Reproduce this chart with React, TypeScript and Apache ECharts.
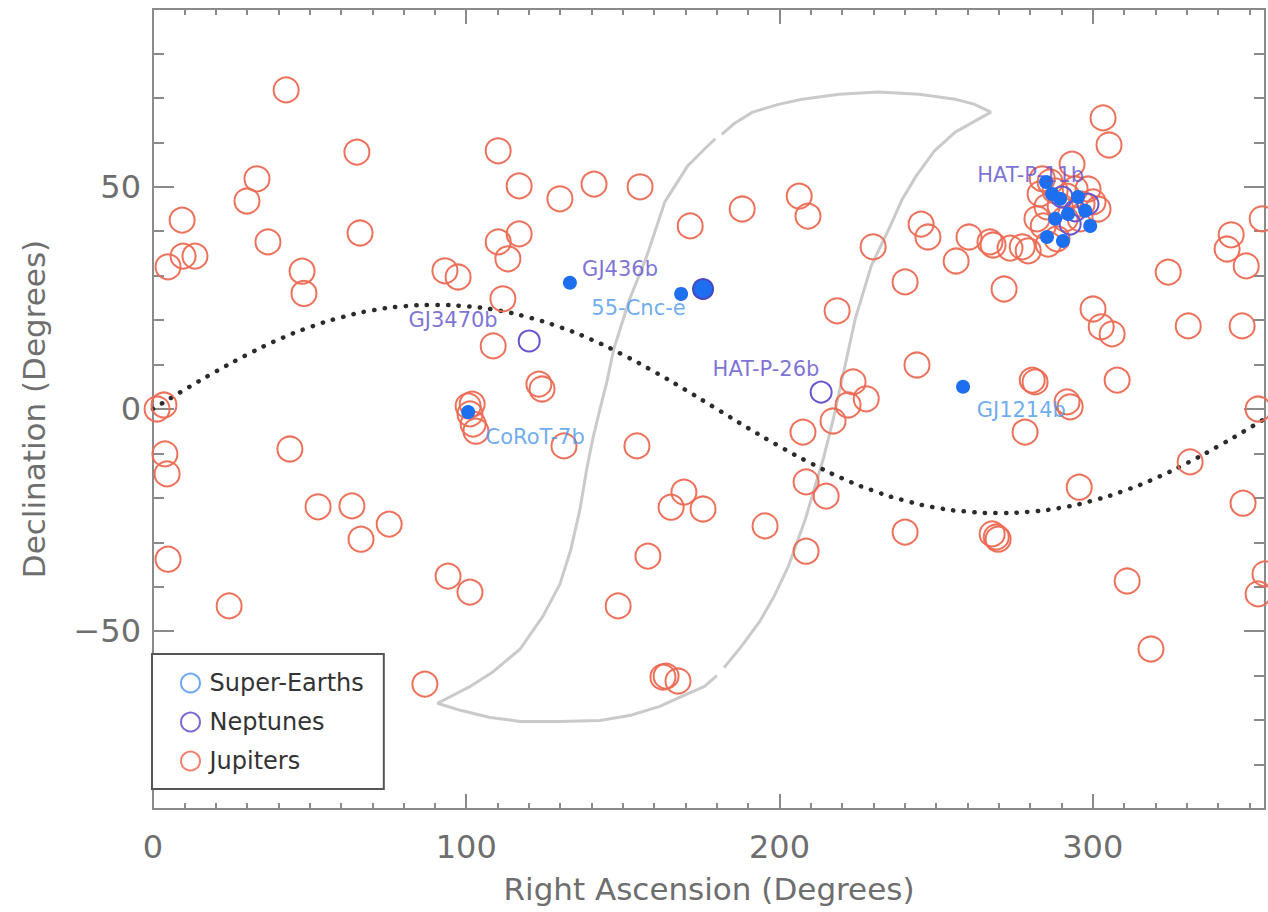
import { useEffect, useRef } from 'react';
import * as echarts from 'echarts';

// ---- axis extents / ticks ----
const X_MIN = 0;
const X_MAX = 355;
const Y_MIN = -90;
const Y_MAX = 90;
const xMajor = [0, 100, 200, 300];
const xMinor = [10, 20, 30, 40, 50, 60, 70, 80, 90, 110, 120, 130, 140, 150, 160, 170, 180, 190, 210, 220, 230, 240, 250, 260, 270, 280, 290, 310, 320, 330, 340, 350];
const yMajor = [-50, 0, 50];
const yMinor = [-80, -70, -60, -40, -30, -20, -10, 10, 20, 30, 40, 60, 70, 80];

// ---- data: [Right Ascension, Declination] in degrees ----
const jupiters: number[][] = [
  [42.5, 71.8], [33.2, 51.8], [30.0, 46.8], [9.3, 42.5], [4.8, 32.0], [9.6, 34.4], [13.4, 34.4],
  [36.7, 37.6], [47.6, 31.0], [48.2, 26.0], [65.1, 57.8], [66.1, 39.6], [93.2, 31.1], [97.4, 29.7],
  [1.3, 0.0], [3.5, 0.9], [3.8, -10.1], [4.5, -14.6], [4.8, -33.8], [43.7, -9.0], [52.7, -22.0],
  [63.5, -21.8], [66.4, -29.3], [75.4, -25.9], [24.3, -44.3], [86.8, -61.9], [94.2, -37.6], [101.2, -41.2],
  [110.2, 58.1], [116.9, 50.2], [129.9, 47.3], [140.8, 50.6], [155.5, 50.0], [110.2, 37.6], [113.3, 33.8],
  [116.9, 39.4], [111.7, 24.8], [108.6, 14.2], [123.2, 5.6], [124.2, 4.5], [100.6, 0.7], [101.9, 1.1],
  [101.2, -1.1], [102.2, -3.4], [103.1, -5.0], [131.2, -8.3], [154.5, -8.3], [169.5, -18.7], [165.4, -22.1],
  [175.6, -22.5], [195.4, -26.3], [158.0, -33.1], [148.5, -44.3], [162.8, -60.3], [163.8, -60.1], [167.6, -61.2],
  [171.5, 41.2], [188.1, 45.0], [206.3, 47.9], [209.1, 43.4], [229.9, 36.5], [218.4, 22.1], [223.5, 6.1],
  [221.9, 0.9], [227.7, 2.3], [217.1, -2.7], [207.5, -5.2], [208.5, -16.4], [214.9, -19.6], [208.5, -32.0],
  [240.1, 28.6], [245.2, 41.6], [247.4, 38.7], [256.4, 33.3], [260.5, 38.7], [267.2, 37.6], [268.2, 36.9],
  [271.7, 27.0], [273.6, 36.2], [277.5, 36.5], [279.4, 35.6], [243.9, 9.9], [240.1, -27.7], [267.9, -28.1],
  [269.2, -28.8], [269.8, -29.3], [278.4, -5.2], [280.7, 6.5], [281.6, 6.1], [291.8, 1.6], [292.8, 0.5],
  [295.7, -17.6], [300.1, 22.5], [302.7, 18.5], [306.2, 16.9], [307.8, 6.5], [303.3, 65.5], [305.2, 59.4],
  [324.1, 30.8], [330.5, 18.7], [331.1, -11.9], [311.0, -38.7], [318.6, -54.0], [344.2, 39.2], [342.9, 36.0],
  [349.0, 32.2], [347.7, 18.7], [354.1, 42.8], [352.8, 0.0], [348.0, -21.2], [352.8, -41.6], [355.0, -37.1],
  [293.4, 55.1], [283.9, 51.8], [286.4, 51.1], [283.2, 48.4], [288.0, 49.1], [294.4, 49.5], [298.5, 49.5],
  [296.6, 46.1], [300.1, 46.6], [301.7, 45.0], [291.8, 47.9], [289.6, 45.7], [285.4, 45.5], [282.2, 42.8],
  [284.2, 41.2], [291.2, 42.8], [296.0, 42.8], [288.6, 38.3], [285.8, 37.1],
];
const neptunes: number[][] = [
  [120.1, 15.3], [213.3, 3.8], [290.2, 47.7], [294.4, 44.6], [298.5, 46.1], [292.8, 41.6],
];
const filledNeptunes: number[][] = [[175.6, 27.0]];
const superEarths: number[][] = [
  [100.6, -0.7], [133.1, 28.4], [168.6, 25.9], [258.6, 5.0], [285.1, 51.1], [287.0, 48.4], [295.3, 47.7],
  [297.6, 44.6], [299.2, 41.2], [285.4, 38.7], [290.5, 37.8], [292.1, 43.9], [288.0, 42.8], [289.6, 47.3],
];

// planet name labels (text centre in RA/Dec)
const purpleLabelNames = ['GJ436b', 'GJ3470b', 'HAT-P-26b', 'HAT-P-11b'];
const purpleLabelPos: number[][] = [[149.1, 31.5], [95.8, 20.0], [195.7, 9.0], [280.2, 52.6]];
const blueLabelNames = ['55-Cnc-e', 'CoRoT-7b', 'GJ1214b'];
const blueLabelPos: number[][] = [[155.0, 22.7], [122.0, -6.3], [277.2, -0.2]];

// ecliptic (dotted)
const eclipticRA = [0, 10, 20, 30, 40, 50, 60, 70, 80, 90, 100, 110, 120, 130, 140, 150, 160, 170, 180, 190, 200, 210, 220, 230, 240, 250, 260, 270, 280, 290, 300, 310, 320, 330, 340, 350, 360];
const eclipticDec = [0, 4.3, 8.4, 12.2, 15.6, 18.4, 20.6, 22.2, 23.1, 23.4, 23.1, 22.2, 20.6, 18.4, 15.6, 12.2, 8.4, 4.3, 0, -4.3, -8.4, -12.2, -15.6, -18.4, -20.6, -22.2, -23.1, -23.4, -23.1, -22.2, -20.6, -18.4, -15.6, -12.2, -8.4, -4.3, 0];

// visibility region outline (two pieces, gaps between them)
const regionPieceA: number[][] = [
  [179.5, 60.8], [176.1, 58.5], [170.7, 54.7], [163.4, 46.6], [157.3, 33.7], [152.2, 24.8], [147.1, 13.5],
  [144.9, 6.1], [142.7, 0.0], [140.4, -6.7], [138.5, -13.4], [136.3, -22.6], [133.4, -31.6], [129.9, -39.4],
  [124.5, -46.6], [117.2, -54.0], [108.6, -59.1], [101.3, -62.4], [90.8, -66.2], [98.1, -67.8], [107.6, -69.4],
  [117.2, -70.3], [129.9, -70.3], [142.7, -70.1], [152.5, -68.9], [161.8, -66.9], [169.7, -64.4], [176.1, -62.4],
  [180.0, -60.0],
];
const regionPieceB: number[][] = [
  [182.3, -58.2], [187.3, -53.9], [193.6, -47.9], [198.4, -42.0], [202.9, -35.3], [208.3, -24.7], [211.1, -18.0],
  [214.0, -11.2], [217.2, -2.2], [220.7, 9.0], [224.2, 20.3], [229.3, 32.2], [235.4, 41.2], [239.2, 47.2],
  [243.6, 52.4], [249.4, 58.0], [256.1, 62.3], [267.5, 66.8], [262.1, 68.6], [256.1, 69.7], [244.6, 70.8],
  [231.5, 71.3], [219.1, 70.8], [207.3, 69.7], [200.0, 68.6], [191.4, 66.8], [185.7, 64.3], [181.6, 61.8],
];

const AX = '#8a8a8a';
const LABEL = '#6e6e6e';
const FONT = 'DejaVu Sans';
const RED = '#ec6a53';
const PURPLE = '#6655cc';
const BLUE = '#1e6ff0';

function xAxisDef(position: string, ticks: number[], len: number, labels: boolean) {
  return {
    type: 'value', position, min: X_MIN, max: X_MAX,
    axisLine: { show: true, onZero: false, lineStyle: { color: AX, width: 2 } },
    splitLine: { show: false },
    axisTick: { show: true, inside: true, length: len, customValues: ticks, lineStyle: { color: AX, width: 2 } },
    axisLabel: labels
      ? { show: true, customValues: xMajor, margin: 22, color: LABEL, fontSize: 32, fontFamily: FONT }
      : { show: false },
    ...(labels ? {
      name: 'Right Ascension (Degrees)', nameLocation: 'middle', nameGap: 64,
      nameTextStyle: { color: LABEL, fontSize: 31, fontFamily: FONT },
    } : {}),
  };
}
function yAxisDef(position: string, ticks: number[], len: number, labels: boolean) {
  return {
    type: 'value', position, min: Y_MIN, max: Y_MAX,
    axisLine: { show: true, onZero: false, lineStyle: { color: AX, width: 2 } },
    splitLine: { show: false },
    axisTick: { show: true, inside: true, length: len, customValues: ticks, lineStyle: { color: AX, width: 2 } },
    axisLabel: labels
      ? {
        show: true, customValues: yMajor, margin: 12, color: LABEL, fontSize: 32, fontFamily: FONT,
        formatter: (v: number) => String(v).replace('-', '\u2212'),
      }
      : { show: false },
    ...(labels ? {
      name: 'Declination (Degrees)', nameLocation: 'middle', nameGap: 104,
      nameTextStyle: { color: LABEL, fontSize: 31, fontFamily: FONT },
    } : {}),
  };
}

export default function App() {
  const ref = useRef<HTMLDivElement>(null);
  useEffect(() => {
    if (!ref.current) return;
    const chart = echarts.init(ref.current, undefined, { renderer: 'svg' });
    const labelSeries = (names: string[], pos: number[][], color: string) => ({
      type: 'scatter', silent: true, symbolSize: 1, z: 6,
      itemStyle: { color: 'rgba(0,0,0,0)' },
      label: { show: true, position: 'inside', formatter: '{b}', color, fontSize: 21, fontFamily: FONT },
      data: names.map((n, i) => ({ name: n, value: pos[i] })),
    });
    const legendIcon = (color: string) => ({ color: 'rgba(0,0,0,0)', borderColor: color, borderWidth: 2 });
    chart.setOption({
      animation: false,
      backgroundColor: '#ffffff',
      grid: { left: 153, right: 3, top: 9, bottom: 103, outerBoundsMode: 'none', containLabel: false },
      xAxis: [
        xAxisDef('bottom', xMinor, 6, false),
        xAxisDef('bottom', xMajor, 15, true),
        xAxisDef('top', xMinor, 6, false),
        xAxisDef('top', xMajor, 15, false),
      ],
      yAxis: [
        yAxisDef('left', yMinor, 11, false),
        yAxisDef('left', yMajor, 21, true),
        yAxisDef('right', yMinor, 11, false),
        yAxisDef('right', yMajor, 21, false),
      ],
      legend: {
        orient: 'vertical', left: 152, top: 654,
        itemWidth: 28, itemHeight: 19, itemGap: 15,
        padding: [17, 20, 16, 28],
        borderColor: '#555555', borderWidth: 2,
        backgroundColor: '#ffffff',
        textStyle: { color: '#333333', fontSize: 24, fontFamily: FONT },
        selectedMode: false,
        data: [
          { name: 'Super-Earths', icon: 'circle', itemStyle: legendIcon('#6ea8f5') },
          { name: 'Neptunes', icon: 'circle', itemStyle: legendIcon('#7a6ad2') },
          { name: 'Jupiters', icon: 'circle', itemStyle: legendIcon('#f07a66') },
        ],
      },
      series: [
        {
          type: 'line', silent: true, symbol: 'none', z: 1, data: regionPieceA,
          lineStyle: { color: '#cacaca', width: 3 },
        },
        {
          type: 'line', silent: true, symbol: 'none', z: 1, data: regionPieceB,
          lineStyle: { color: '#cacaca', width: 3 },
        },
        {
          type: 'line', silent: true, symbol: 'none', z: 2, smooth: true,
          data: eclipticRA.map((r, i) => [r, eclipticDec[i]]),
          lineStyle: { color: '#2b2b2b', width: 4.5, type: [0.3, 10.3], cap: 'round' },
        },
        {
          name: 'Jupiters', type: 'scatter', z: 3, symbol: 'circle', symbolSize: 25, data: jupiters,
          itemStyle: { color: 'rgba(0,0,0,0)', borderColor: RED, borderWidth: 2, opacity: 0.95 },
        },
        {
          name: 'Neptunes', type: 'scatter', z: 4, symbol: 'circle', symbolSize: 21, data: neptunes,
          itemStyle: { color: 'rgba(0,0,0,0)', borderColor: PURPLE, borderWidth: 2, opacity: 1 },
        },
        {
          name: 'Super-Earths', type: 'scatter', z: 5, symbol: 'circle', symbolSize: 14, data: superEarths,
          itemStyle: { color: BLUE, opacity: 1 },
        },
        {
          type: 'scatter', z: 5, symbol: 'circle', symbolSize: 20, data: filledNeptunes,
          itemStyle: { color: BLUE, borderColor: '#4a46c0', borderWidth: 2, opacity: 1 },
        },
        labelSeries(purpleLabelNames, purpleLabelPos, '#5c4ecb'),
        labelSeries(blueLabelNames, blueLabelPos, '#4896ec'),
      ],
    });
    return () => chart.dispose();
  }, []);
  return (
    <div
      ref={ref}
      style={{ position: 'absolute', left: 0, top: 0, width: 1268, height: 912, background: '#fff' }}
    />
  );
}
